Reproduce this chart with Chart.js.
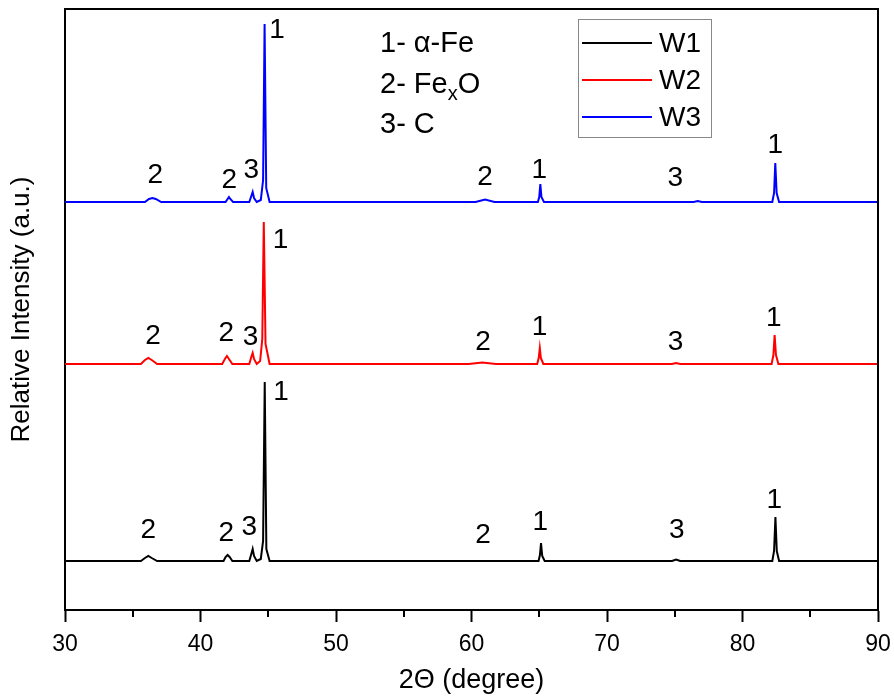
<!DOCTYPE html>
<html>
<head>
<meta charset="utf-8">
<script src="https://cdn.jsdelivr.net/npm/chart.js@4/dist/chart.umd.min.js"></script>
<style>
  body { margin: 0; background: #fff; }
  canvas { display: block; }
</style>
</head>
<body>
<canvas id="xrd" width="894" height="697"></canvas>
<script>
const FONT = '"Liberation Sans", Arial, sans-serif'

// 2theta sample positions and intensities above each baseline (a.u.)
const w1Angles = [30, 35.6, 35.9, 36.15, 36.4, 36.8, 41.7, 41.85, 42.0, 42.15, 42.35, 43.6, 43.75, 43.85, 43.95, 44.15, 44.45, 44.62, 44.74, 44.86, 45.1, 64.95, 65.05, 65.13, 65.22, 65.4, 74.8, 75.1, 75.4, 82.2, 82.33, 82.43, 82.53, 82.7, 90]
const w1Values = [0, 0, 3, 5, 3, 0, 0, 4, 6, 4, 0, 0, 7, 12, 5, 0, 2, 20, 179, 12, 0, 0, 6, 18, 5, 0, 0, 1.5, 0, 0, 10, 44, 10, 0, 0]

const w2Angles = [30, 35.6, 35.9, 36.15, 36.4, 36.8, 41.6, 41.8, 41.95, 42.1, 42.35, 43.6, 43.75, 43.85, 43.95, 44.15, 44.4, 44.56, 44.67, 44.8, 45.1, 59.8, 60.8, 61.8, 64.85, 64.96, 65.04, 65.12, 65.3, 74.8, 75.1, 75.4, 82.15, 82.28, 82.37, 82.47, 82.65, 90]
const w2Values = [0, 0, 4, 6, 4, 0, 0, 5, 8, 5, 0, 0, 7, 11, 5, 0, 3, 25, 142, 20, 0, 0, 1.5, 0, 0, 6, 16, 6, 0, 0, 1, 0, 0, 9, 29, 9, 0, 0]

const w3Angles = [30, 35.9, 36.2, 36.45, 36.7, 37.1, 41.85, 42.0, 42.1, 42.2, 42.4, 43.6, 43.75, 43.85, 43.95, 44.15, 44.45, 44.62, 44.73, 44.85, 45.1, 60.3, 61.0, 61.7, 64.9, 65.0, 65.08, 65.16, 65.35, 76.4, 76.7, 77.0, 82.2, 82.33, 82.42, 82.52, 82.7, 90]
const w3Values = [0, 0, 3, 4, 3, 0, 0, 3, 5, 3, 0, 0, 6, 10, 4, 0, 2, 22, 178, 14, 0, 0, 2.5, 0, 0, 5, 18, 5, 0, 0, 1, 0, 0, 9, 39, 9, 0, 0]

const seriesNames = ['W1', 'W2', 'W3']
const seriesOffsets = [49, 246, 408]
const seriesColors = ['#000000', '#ff0000', '#0000ff']

// peak markers: 1 = alpha-Fe, 2 = FexO, 3 = C
const peakTexts = ['2', '2', '3', '1', '2', '1', '3', '1']
const w1LabelAngles = [36.15, 41.9, 43.6, 45.95, 60.85, 65.07, 75.15, 82.35]
const w1LabelHeights = [31, 28, 34, 169, 26, 39, 31, 61]
const w2LabelAngles = [36.5, 41.9, 43.7, 45.9, 60.85, 65.03, 75.05, 82.3]
const w2LabelHeights = [28, 31, 27, 124, 22, 37, 22, 46]
const w3LabelAngles = [36.67, 42.13, 43.75, 45.65, 61.0, 65.0, 75.04, 82.42]
const w3LabelHeights = [27, 22, 32, 172, 25, 32, 24, 57]

const phaseKey = ['1- α-Fe', '2- Fe|x|O', '3- C']
const minorTicks = [35, 45, 55, 65, 75, 85]

const allAngles = [w1Angles, w2Angles, w3Angles]
const allValues = [w1Values, w2Values, w3Values]
const allLabelAngles = [w1LabelAngles, w2LabelAngles, w3LabelAngles]
const allLabelHeights = [w1LabelHeights, w2LabelHeights, w3LabelHeights]

const datasets = seriesNames.map((name, i) => ({
  label: name,
  data: allAngles[i].map((a, k) => ({ x: a, y: allValues[i][k] + seriesOffsets[i] })),
  borderColor: seriesColors[i],
  backgroundColor: seriesColors[i],
  borderWidth: 2,
  pointRadius: 0,
  tension: 0
}))

const decorations = {
  id: 'decorations',
  afterDraw (chart) {
    const { ctx, chartArea: area, scales: { x, y } } = chart
    ctx.save()

    // top and right frame
    ctx.strokeStyle = '#000'
    ctx.lineWidth = 2
    ctx.beginPath()
    ctx.moveTo(area.left, area.top)
    ctx.lineTo(area.right, area.top)
    ctx.lineTo(area.right, area.bottom)
    ctx.stroke()

    // minor ticks
    ctx.beginPath()
    minorTicks.forEach(v => {
      const px = Math.round(x.getPixelForValue(v))
      ctx.moveTo(px, area.bottom)
      ctx.lineTo(px, area.bottom + 7)
    })
    ctx.stroke()

    // peak labels
    ctx.fillStyle = '#000'
    ctx.font = '28px ' + FONT
    ctx.textAlign = 'center'
    ctx.textBaseline = 'middle'
    allLabelAngles.forEach((angles, i) => {
      angles.forEach((a, k) => {
        ctx.fillText(peakTexts[k], x.getPixelForValue(a),
          y.getPixelForValue(allLabelHeights[i][k] + seriesOffsets[i]))
      })
    })

    // phase key
    ctx.textAlign = 'left'
    ctx.textBaseline = 'alphabetic'
    const keyX = area.left + 315
    phaseKey.forEach((t, i) => {
      const base = area.top + 43 + i * 40.5
      const parts = t.split('|')
      let cx = keyX
      parts.forEach((p, j) => {
        const sub = j % 2 === 1
        ctx.font = (sub ? '20px ' : '29px ') + FONT
        ctx.fillText(p, cx, base + (sub ? 7 : 0))
        cx += ctx.measureText(p).width
      })
    })

    // series legend box
    const bx = area.left + 513
    const by = area.top + 10
    ctx.strokeStyle = '#888'
    ctx.lineWidth = 1
    ctx.strokeRect(bx + 0.5, by + 0.5, 133, 118)
    ctx.font = '28px ' + FONT
    ctx.textBaseline = 'middle'
    seriesNames.forEach((name, i) => {
      const ly = by + 24 + i * 37
      ctx.strokeStyle = seriesColors[i]
      ctx.lineWidth = 2
      ctx.beginPath()
      ctx.moveTo(bx + 4, ly)
      ctx.lineTo(bx + 74, ly)
      ctx.stroke()
      ctx.fillStyle = '#000'
      ctx.fillText(name, bx + 81, ly + 1)
    })
    ctx.restore()
  }
}

const chart = new Chart(document.getElementById('xrd'), {
  type: 'line',
  data: { datasets },
  options: {
    responsive: false,
    animation: false,
    layout: { padding: { top: 9, right: 16, left: 0, bottom: 0 } },
    scales: {
      x: {
        type: 'linear',
        min: 30,
        max: 90,
        ticks: { stepSize: 10, color: '#000', padding: 9, font: { size: 23, family: FONT } },
        grid: { drawOnChartArea: false, drawTicks: true, tickLength: 12, tickColor: '#000', tickWidth: 2 },
        border: { display: true, color: '#000', width: 2 },
        title: { display: true, text: '2Θ (degree)', color: '#000', padding: { top: 0, bottom: 0 }, font: { size: 27, family: FONT } },
        afterFit: scale => {
          scale.height = 87
          scale.paddingLeft = 0
          scale.paddingRight = 0
        }
      },
      y: {
        type: 'linear',
        min: 0,
        max: 601,
        ticks: { display: false },
        grid: { drawOnChartArea: false, drawTicks: false },
        border: { display: true, color: '#000', width: 2 },
        title: { display: true, text: 'Relative Intensity (a.u.)', color: '#000', padding: { top: 6, bottom: 0 }, font: { size: 26, family: FONT } },
        afterFit: scale => { scale.width = 65 }
      }
    },
    plugins: {
      legend: { display: false },
      tooltip: { enabled: false }
    }
  },
  plugins: [decorations]
})
</script>
</body>
</html>
